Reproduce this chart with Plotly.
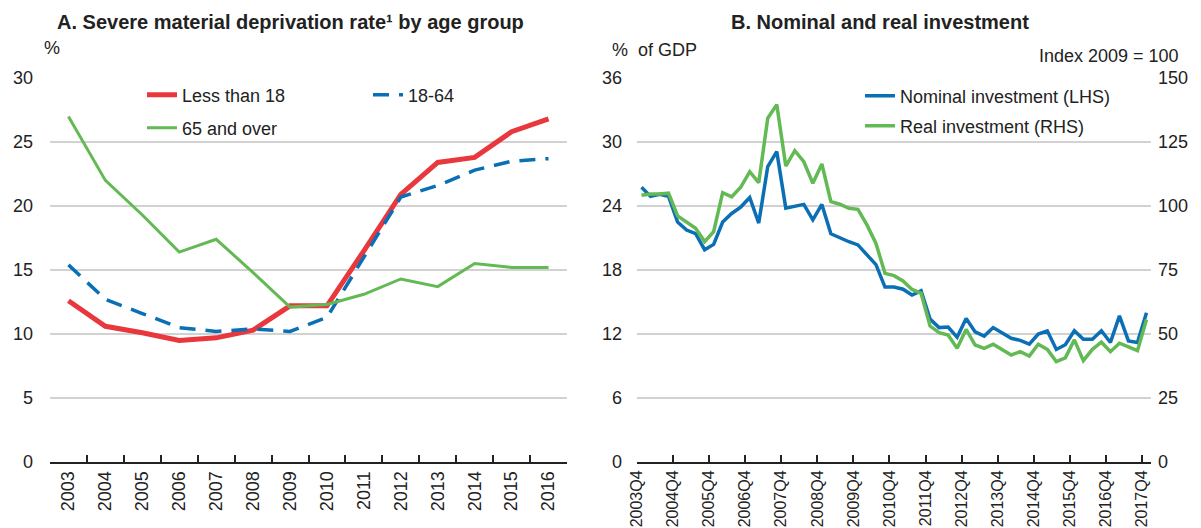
import plotly.graph_objects as go

# ---------------- Data ----------------
years = ["2003", "2004", "2005", "2006", "2007", "2008", "2009",
         "2010", "2011", "2012", "2013", "2014", "2015", "2016"]
less_than_18 = [12.6, 10.6, 10.1, 9.5, 9.7, 10.3, 12.2, 12.2, 16.5, 20.9, 23.4, 23.8, 25.8, 26.8]
age_18_64 = [15.4, 12.7, 11.6, 10.5, 10.2, 10.4, 10.2, 11.3, 16.0, 20.7, 21.6, 22.8, 23.5, 23.7]
age_65_over = [27.0, 22.0, 19.3, 16.4, 17.4, 14.8, 12.1, 12.3, 13.1, 14.3, 13.7, 15.5, 15.2, 15.2]

quarters = ["2003Q4"] + [f"{y}Q{q}" for y in range(2004, 2018) for q in (1, 2, 3, 4)]
nominal_inv = [25.75, 24.9, 25.1, 24.9, 22.5, 21.75, 21.4, 19.9, 20.4, 22.5,
               23.3, 23.9, 24.8, 22.4, 27.7, 29.1, 23.8, 23.95, 24.15, 22.7,
               24.15, 21.4, 21.0, 20.65, 20.35, 19.4, 18.5, 16.4, 16.4, 16.2,
               15.65, 16.05, 13.4, 12.6, 12.65, 11.7, 13.45, 12.2, 11.8, 12.6,
               12.1, 11.6, 11.4, 11.05, 12.0, 12.3, 10.55, 11.0, 12.3, 11.5,
               11.5, 12.3, 11.2, 13.7, 11.35, 11.2, 14.0]
real_inv = [104.2, 104.7, 104.7, 105.0, 96.1, 93.9, 91.3, 86.1, 90.0, 105.2,
            103.6, 107.3, 113.4, 109.1, 134.3, 139.6, 115.6, 121.6, 117.3, 108.9,
            116.4, 101.7, 100.7, 99.1, 98.7, 92.6, 85.4, 73.7, 72.8, 70.7,
            67.4, 65.9, 53.1, 50.5, 49.6, 44.4, 51.8, 45.7, 44.4, 46.0,
            44.0, 41.8, 43.1, 41.4, 46.0, 44.0, 39.2, 40.7, 47.7, 39.6,
            44.0, 46.8, 43.1, 46.4, 45.0, 43.5, 55.7]
q_tick_labels = quarters[::4]

# ---------------- Styling ----------------
W, H = 1201, 528
RED = "#e8383d"
BLUE = "#0a6fb5"
GREEN = "#63b954"
GRID = "#d2d2d2"
TXT = "#222222"
FONT = "Liberation Sans Narrow, Arial Narrow, Liberation Sans, Arial, sans-serif"


def px_x(p):
    return p / W


def px_y(p):
    return 1 - p / H


fig = go.Figure()

# Left panel
fig.add_trace(go.Scatter(x=years, y=less_than_18, name="Less than 18", mode="lines",
                         line=dict(color=RED, width=5), xaxis="x", yaxis="y", legend="legend"))
fig.add_trace(go.Scatter(x=years, y=age_18_64, name="18-64", mode="lines",
                         line=dict(color=BLUE, width=3.5, dash="16px,10px"), xaxis="x", yaxis="y",
                         legend="legend"))
fig.add_trace(go.Scatter(x=years, y=age_65_over, name="65 and over", mode="lines",
                         line=dict(color=GREEN, width=3), xaxis="x", yaxis="y", legend="legend3"))

# Right panel
qx = list(range(len(quarters)))
fig.add_trace(go.Scatter(x=qx, y=real_inv, name="Real investment (RHS)", mode="lines",
                         line=dict(color=GREEN, width=3.5), xaxis="x2", yaxis="y4", legend="legend4",
                         customdata=quarters))
fig.add_trace(go.Scatter(x=qx, y=nominal_inv, name="Nominal investment (LHS)", mode="lines",
                         line=dict(color=BLUE, width=3.5), xaxis="x2", yaxis="y3", legend="legend2",
                         customdata=quarters))

ydom = [px_y(462), px_y(78)]
tickfont = dict(family=FONT, size=18, color=TXT)
qtickfont = dict(family=FONT, size=16, color=TXT)
legfont = dict(family=FONT, size=18, color=TXT)

fig.update_layout(
    width=W, height=H,
    margin=dict(l=0, r=0, t=0, b=0, autoexpand=False),
    paper_bgcolor="white", plot_bgcolor="white",
    font=dict(family=FONT, size=18, color=TXT),
    xaxis=dict(domain=[px_x(50), px_x(567)], type="category", range=[-0.5, 13.5],
               showgrid=False, showline=True, linecolor="#222", linewidth=2,
               ticks="inside", tickson="boundaries", ticklen=7, tickwidth=1.5, tickcolor="#222",
               tickangle=-90, tickfont=tickfont, anchor="y", automargin=False),
    yaxis=dict(domain=ydom, range=[0, 30], dtick=5, tick0=0, showgrid=True, gridcolor=GRID,
               gridwidth=2, zeroline=False, showline=False, ticks="", tickfont=tickfont,
               ticklabelstandoff=16, anchor="x", automargin=False),
    xaxis2=dict(domain=[px_x(637), px_x(1151)], range=[-0.5, 56.5],
                tickmode="array", tickvals=[i - 0.5 for i in range(0, len(quarters), 4)],
                ticktext=q_tick_labels,
                showgrid=False, showline=True, linecolor="#222", linewidth=2,
                ticks="inside", ticklen=7, tickwidth=1.5, tickcolor="#222",
                tickangle=-90, tickfont=qtickfont, anchor="y3", zeroline=False, automargin=False),
    yaxis3=dict(domain=ydom, range=[0, 36], dtick=6, tick0=0, showgrid=True, gridcolor=GRID,
                gridwidth=2, zeroline=False, showline=False, ticks="", tickfont=tickfont,
                ticklabelstandoff=14, anchor="x2", automargin=False),
    yaxis4=dict(domain=ydom, range=[0, 150], dtick=25, tick0=0, showgrid=False, zeroline=False,
                showline=False, ticks="", tickfont=tickfont, overlaying="y3", side="right",
                ticklabelstandoff=6, anchor="x2", automargin=False),
    legend=dict(orientation="h", x=px_x(142), y=px_y(95), xanchor="left", yanchor="middle",
                entrywidth=181, bgcolor="rgba(0,0,0,0)", font=legfont),
    legend3=dict(orientation="h", x=px_x(142), y=px_y(128), xanchor="left", yanchor="middle",
                 bgcolor="rgba(0,0,0,0)", font=legfont),
    legend2=dict(orientation="h", x=px_x(860), y=px_y(96), xanchor="left", yanchor="middle",
                 bgcolor="rgba(0,0,0,0)", font=legfont),
    legend4=dict(orientation="h", x=px_x(860), y=px_y(126), xanchor="left", yanchor="middle",
                 bgcolor="rgba(0,0,0,0)", font=legfont),
    showlegend=True,
)

ann = [
    dict(text="<b>A. Severe material deprivation rate¹ by age group</b>", x=px_x(290), y=px_y(22),
         size=20, xanchor="center"),
    dict(text="<b>B. Nominal and real investment</b>", x=px_x(880), y=px_y(22), size=20,
         xanchor="center"),
    dict(text="%", x=px_x(52), y=px_y(48), size=18, xanchor="center"),
    dict(text="%  of GDP", x=px_x(610), y=px_y(50), size=18, xanchor="left"),
    dict(text="Index 2009 = 100", x=px_x(1181), y=px_y(56), size=18, xanchor="right"),
]
for a in ann:
    fig.add_annotation(xref="paper", yref="paper", showarrow=False, yanchor="middle",
                       font=dict(family=FONT, size=a["size"], color=TXT),
                       text=a["text"], x=a["x"], y=a["y"], xanchor=a["xanchor"])

fig.write_html("out.html", config={"displayModeBar": False},
               post_script="document.body.style.margin='0';")
